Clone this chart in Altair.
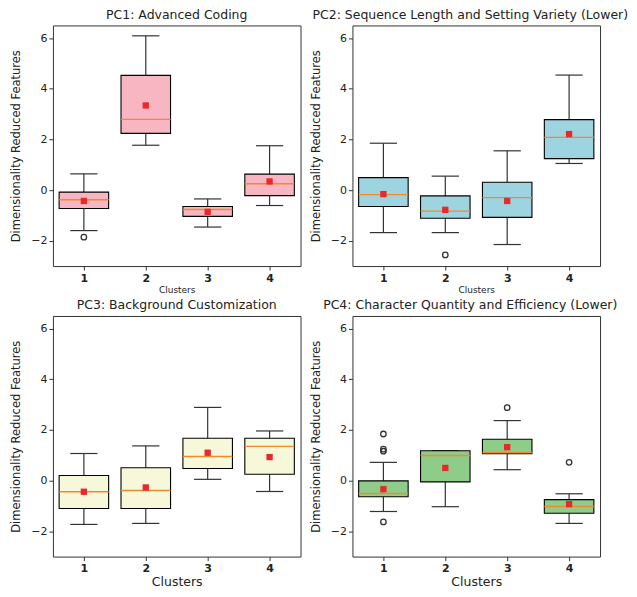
import altair as alt
import pandas as pd

clusters = [1, 2, 3, 4]
titles = [
    "PC1: Advanced Coding",
    "PC2: Sequence Length and Setting Variety (Lower)",
    "PC3: Background Customization",
    "PC4: Character Quantity and Efficiency (Lower)",
]
box_colors = ["#F7B6C2", "#9DD4E0", "#F7F7DA", "#8ECC8A"]

# per-PC box statistics (per cluster 1..4)
pc1_lo = [-1.60, 1.77, -1.46, -0.61]
pc1_q1 = [-0.73, 2.24, -1.04, -0.22]
pc1_med = [-0.38, 2.79, -0.77, 0.25]
pc1_q3 = [-0.08, 4.53, -0.65, 0.63]
pc1_hi = [0.64, 6.09, -0.35, 1.75]
pc1_mean = [-0.43, 3.34, -0.86, 0.34]
pc1_out_cluster = [1]
pc1_out_value = [-1.86]

pc2_lo = [-1.68, -1.68, -2.15, 1.05]
pc2_q1 = [-0.65, -1.11, -1.08, 1.24]
pc2_med = [-0.18, -0.83, -0.30, 2.08]
pc2_q3 = [0.49, -0.23, 0.31, 2.78]
pc2_hi = [1.85, 0.55, 1.55, 4.54]
pc2_mean = [-0.16, -0.78, -0.43, 2.21]
pc2_out_cluster = [2]
pc2_out_value = [-2.56]

pc3_lo = [-1.73, -1.69, 0.05, -0.43]
pc3_q1 = [-1.10, -1.10, 0.48, 0.25]
pc3_med = [-0.44, -0.39, 0.95, 1.35]
pc3_q3 = [0.20, 0.51, 1.67, 1.67]
pc3_hi = [1.07, 1.37, 2.89, 1.96]
pc3_mean = [-0.44, -0.27, 1.10, 0.93]
pc3_out_cluster = []
pc3_out_value = []

pc4_lo = [-1.22, -1.03, 0.43, -1.69]
pc4_q1 = [-0.64, -0.05, 1.06, -1.29]
pc4_med = [-0.51, 0.99, 1.11, -1.02]
pc4_q3 = [-0.01, 1.18, 1.63, -0.75]
pc4_hi = [0.72, 1.18, 2.37, -0.52]
pc4_mean = [-0.34, 0.50, 1.32, -0.93]
pc4_out_cluster = [1, 1, 1, 1, 3, 4]
pc4_out_value = [1.84, 1.24, 1.16, -1.63, 2.88, 0.72]

stats = [
    (pc1_lo, pc1_q1, pc1_med, pc1_q3, pc1_hi, pc1_mean, pc1_out_cluster, pc1_out_value),
    (pc2_lo, pc2_q1, pc2_med, pc2_q3, pc2_hi, pc2_mean, pc2_out_cluster, pc2_out_value),
    (pc3_lo, pc3_q1, pc3_med, pc3_q3, pc3_hi, pc3_mean, pc3_out_cluster, pc3_out_value),
    (pc4_lo, pc4_q1, pc4_med, pc4_q3, pc4_hi, pc4_mean, pc4_out_cluster, pc4_out_value),
]

FONT = "DejaVu Sans"
XS = alt.Scale(domain=[0.5, 4.5], nice=False, zero=False)
YS = alt.Scale(domain=[-3, 6.5], nice=False, zero=False)
EDGE = "#333333"
TXT = "#222222"


def panel(i, bottom_row, right_col):
    lo, q1, med, q3, hi, mean, oc, ov = stats[i]
    df = pd.DataFrame(dict(cluster=clusters, lo=lo, q1=q1, med=med, q3=q3, hi=hi, mean=mean))
    odf = pd.DataFrame(dict(cluster=oc, value=ov))

    xaxis = alt.Axis(
        values=clusters, format="d", labelFontWeight="bold", grid=False, domain=False,
        titleFontSize=12.5 if bottom_row else 9, titlePadding=2,
        labelFontSize=11, titleFontWeight="normal", tickSize=4, labelPadding=2,
        tickColor=EDGE, labelColor=TXT, titleColor=TXT, labelFont=FONT, titleFont=FONT,
    )
    yaxis = alt.Axis(
        values=[-2, 0, 2, 4, 6], format="d", titlePadding=9, grid=False, domain=False,
        titleFontSize=11.5, titleFontWeight="normal", labelFontSize=11, tickSize=4,
        labelPadding=2, tickColor=EDGE, labelColor=TXT, titleColor=TXT,
        labelFont=FONT, titleFont=FONT,
    )

    def X(f):
        return alt.X(f, scale=XS, axis=xaxis, title="Clusters")

    def Y(f):
        return alt.Y(f, scale=YS, axis=yaxis, title="Dimensionality Reduced Features")

    base = alt.Chart(df).transform_calculate(
        xl="datum.cluster - 0.4", xr="datum.cluster + 0.4",
        cl="datum.cluster - 0.22", cr="datum.cluster + 0.22",
    )
    w_lo = base.mark_rule(color=EDGE, strokeWidth=1.2).encode(x=X("cluster:Q"), y=Y("lo:Q"), y2="q1:Q")
    w_hi = base.mark_rule(color=EDGE, strokeWidth=1.2).encode(x=X("cluster:Q"), y=Y("q3:Q"), y2="hi:Q")
    c_lo = base.mark_rule(color=EDGE, strokeWidth=1.2).encode(x=X("cl:Q"), x2="cr:Q", y=Y("lo:Q"))
    c_hi = base.mark_rule(color=EDGE, strokeWidth=1.2).encode(x=X("cl:Q"), x2="cr:Q", y=Y("hi:Q"))
    box = base.mark_rect(fill=box_colors[i], stroke="black", strokeWidth=1.1).encode(
        x=X("xl:Q"), x2="xr:Q", y=Y("q1:Q"), y2="q3:Q")
    medl = base.mark_rule(color="#F08A30", strokeWidth=1.4).encode(x=X("xl:Q"), x2="xr:Q", y=Y("med:Q"))
    mn = base.mark_square(color="#E8282A", size=40, opacity=1).encode(x=X("cluster:Q"), y=Y("mean:Q"))
    layers = [w_lo, w_hi, c_lo, c_hi, box, medl, mn]
    if len(odf):
        outl = alt.Chart(odf).mark_point(shape="circle", filled=False, color=EDGE, size=30,
                                         strokeWidth=1.3, opacity=1).encode(
            x=X("cluster:Q"), y=Y("value:Q"))
        layers.append(outl)
    return alt.layer(*layers).properties(
        width=248, height=241,
        title=alt.TitleParams(titles[i], fontSize=12.5, font=FONT, fontWeight="normal",
                              offset=4, color=TXT, dx=-6 if right_col else 0),
    )


top = alt.hconcat(panel(0, False, False), panel(1, False, True), spacing=8)
bot = alt.hconcat(panel(2, True, False), panel(3, True, True), spacing=8)
chart = alt.vconcat(top, bot, spacing=4).properties(
    padding={"left": 2, "top": 0, "right": 0, "bottom": 0},
    background="white",
).configure_view(stroke=EDGE, strokeWidth=1).configure_axis(
    grid=False, domain=False
)

chart.save("out.html", embed_options={"renderer": "svg", "actions": False})
